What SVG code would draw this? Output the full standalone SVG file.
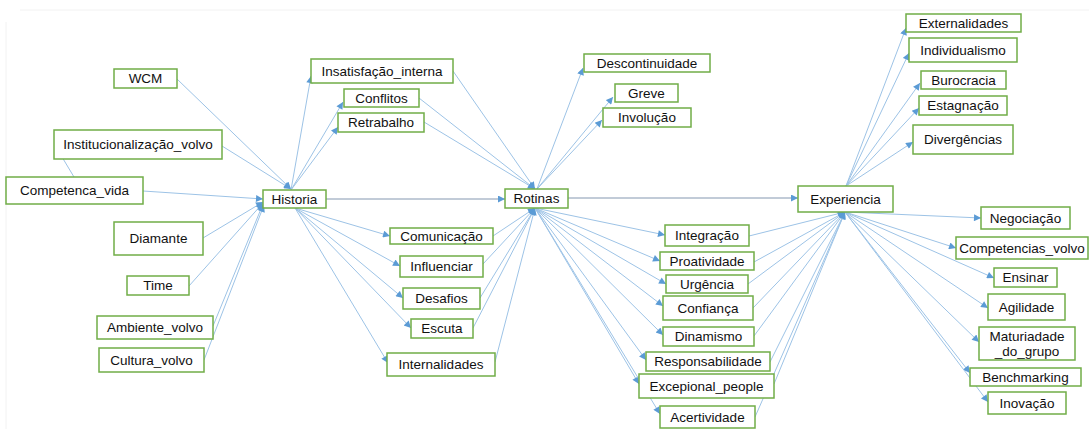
<svg xmlns="http://www.w3.org/2000/svg" width="1089" height="429" viewBox="0 0 1089 429">
<defs>
<marker id="a" viewBox="0 0 10 10" refX="10" refY="5" markerWidth="9" markerHeight="7" orient="auto" markerUnits="userSpaceOnUse"><path d="M0,0 L10,5 L0,10 z" fill="#5B9BD5"/></marker>
<style>
.n rect{fill:#fff;stroke:#70AD47;stroke-width:1.5}
.n text{font-family:"Liberation Sans",Arial,sans-serif;font-size:13.5px;fill:#111;text-anchor:middle}
#edges line{stroke:#9DC3E6;stroke-width:1;marker-end:url(#a)}
#edges line.m{stroke:#8497B0}
</style>
</defs>
<rect width="1089" height="429" fill="#fff"/>
<line x1="20" y1="10" x2="1089" y2="10" stroke="#f2f2f2"/>
<line x1="6" y1="22" x2="6" y2="429" stroke="#f2f2f2"/>
<g id="edges">
<line x1="177" y1="79" x2="291" y2="189"/>
<line x1="222" y1="146" x2="291" y2="189"/>
<line x1="143" y1="191" x2="263" y2="199"/>
<line x1="74" y1="177" x2="56" y2="147"/>
<line x1="203" y1="238" x2="263" y2="202"/>
<line x1="189" y1="286" x2="263" y2="203"/>
<line x1="213" y1="326" x2="263" y2="204"/>
<line x1="204" y1="360" x2="264" y2="205"/>
<line x1="291" y1="190" x2="311" y2="76"/>
<line x1="291" y1="190" x2="343" y2="102"/>
<line x1="291" y1="190" x2="338" y2="127"/>
<line class="m" x1="326" y1="199" x2="505" y2="199"/>
<line x1="295" y1="208" x2="390" y2="236"/>
<line x1="295" y1="208" x2="400" y2="266"/>
<line x1="295" y1="208" x2="403" y2="298"/>
<line x1="295" y1="208" x2="411" y2="328"/>
<line x1="295" y1="208" x2="388" y2="363"/>
<line x1="453" y1="71" x2="535" y2="189"/>
<line x1="419" y1="98" x2="535" y2="189"/>
<line x1="424" y1="122" x2="535" y2="189"/>
<line x1="493" y1="236" x2="535" y2="208"/>
<line x1="483" y1="264" x2="535" y2="208"/>
<line x1="480" y1="298" x2="535" y2="208"/>
<line x1="473" y1="328" x2="535" y2="208"/>
<line x1="495" y1="362" x2="535" y2="208"/>
<line x1="537" y1="189" x2="583" y2="68"/>
<line x1="537" y1="189" x2="613" y2="97"/>
<line x1="537" y1="189" x2="602" y2="120"/>
<line class="m" x1="568" y1="198" x2="798" y2="198"/>
<line x1="535" y1="208" x2="665" y2="235"/>
<line x1="535" y1="208" x2="660" y2="261"/>
<line x1="535" y1="208" x2="666" y2="284"/>
<line x1="535" y1="208" x2="663" y2="306"/>
<line x1="535" y1="208" x2="663" y2="335"/>
<line x1="535" y1="208" x2="646" y2="360"/>
<line x1="535" y1="208" x2="639" y2="384"/>
<line x1="535" y1="208" x2="660" y2="414"/>
<line x1="749" y1="236" x2="845" y2="212"/>
<line x1="754" y1="262" x2="845" y2="212"/>
<line x1="748" y1="284" x2="845" y2="212"/>
<line x1="753" y1="308" x2="845" y2="212"/>
<line x1="754" y1="336" x2="845" y2="212"/>
<line x1="770" y1="362" x2="845" y2="212"/>
<line x1="774" y1="384" x2="845" y2="212"/>
<line x1="755" y1="417" x2="845" y2="212"/>
<line x1="846" y1="186" x2="906" y2="28"/>
<line x1="846" y1="186" x2="909" y2="53"/>
<line x1="846" y1="186" x2="920" y2="83"/>
<line x1="846" y1="186" x2="919" y2="108"/>
<line x1="846" y1="186" x2="913" y2="142"/>
<line x1="845" y1="212" x2="981" y2="218"/>
<line x1="845" y1="212" x2="956" y2="248"/>
<line x1="845" y1="212" x2="994" y2="278"/>
<line x1="845" y1="212" x2="988" y2="308"/>
<line x1="845" y1="212" x2="979" y2="342"/>
<line x1="845" y1="212" x2="970" y2="373"/>
<line x1="845" y1="212" x2="988" y2="402"/>
</g>
<g id="n-wcm" class="n"><rect x="114" y="69" width="63" height="19"/><text x="145.5" y="83">WCM</text></g>
<g id="n-inst" class="n"><rect x="54" y="130" width="168" height="29"/><text x="138" y="149">Institucionalização_volvo</text></g>
<g id="n-comp" class="n"><rect x="6" y="177" width="137" height="27"/><text x="74.5" y="195">Competenca_vida</text></g>
<g id="n-historia" class="n"><rect x="263" y="190" width="63" height="18"/><text x="294.5" y="204">Historia</text></g>
<g id="n-diamante" class="n"><rect x="114" y="222" width="89" height="33"/><text x="158.5" y="243">Diamante</text></g>
<g id="n-time" class="n"><rect x="127" y="276" width="62" height="19"/><text x="158" y="290">Time</text></g>
<g id="n-ambiente" class="n"><rect x="97" y="316" width="116" height="23"/><text x="155" y="332">Ambiente_volvo</text></g>
<g id="n-cultura" class="n"><rect x="99" y="348" width="105" height="24"/><text x="151.5" y="365">Cultura_volvo</text></g>
<g id="n-insat" class="n"><rect x="311" y="59" width="142" height="24"/><text x="382" y="76">Insatisfação_interna</text></g>
<g id="n-conflitos" class="n"><rect x="344" y="89" width="75" height="18"/><text x="381.5" y="103">Conflitos</text></g>
<g id="n-retrabalho" class="n"><rect x="338" y="113" width="86" height="19"/><text x="381" y="127">Retrabalho</text></g>
<g id="n-rotinas" class="n"><rect x="505" y="189" width="63" height="19"/><text x="536.5" y="203">Rotinas</text></g>
<g id="n-comunicacao" class="n"><rect x="390" y="228" width="103" height="16"/><text x="441.5" y="241">Comunicação</text></g>
<g id="n-influenciar" class="n"><rect x="400" y="256" width="83" height="21"/><text x="441.5" y="271">Influenciar</text></g>
<g id="n-desafios" class="n"><rect x="403" y="288" width="77" height="21"/><text x="441.5" y="303">Desafios</text></g>
<g id="n-escuta" class="n"><rect x="411" y="319" width="62" height="19"/><text x="442" y="333">Escuta</text></g>
<g id="n-internalidades" class="n"><rect x="387" y="353" width="108" height="23"/><text x="441" y="369">Internalidades</text></g>
<g id="n-descontinuidade" class="n"><rect x="584" y="54" width="126" height="18"/><text x="647" y="68">Descontinuidade</text></g>
<g id="n-greve" class="n"><rect x="615" y="84" width="63" height="18"/><text x="646.5" y="98">Greve</text></g>
<g id="n-involucao" class="n"><rect x="603" y="108" width="88" height="19"/><text x="647" y="122">Involução</text></g>
<g id="n-integracao" class="n"><rect x="665" y="225" width="84" height="21"/><text x="707" y="240">Integração</text></g>
<g id="n-proatividade" class="n"><rect x="660" y="252" width="94" height="18"/><text x="707" y="266">Proatividade</text></g>
<g id="n-urgencia" class="n"><rect x="666" y="275" width="82" height="18"/><text x="707" y="289">Urgência</text></g>
<g id="n-confianca" class="n"><rect x="663" y="296" width="90" height="24"/><text x="708" y="313">Confiança</text></g>
<g id="n-dinamismo" class="n"><rect x="663" y="327" width="91" height="19"/><text x="708.5" y="341">Dinamismo</text></g>
<g id="n-responsabilidade" class="n"><rect x="646" y="352" width="124" height="19"/><text x="708" y="366">Responsabilidade</text></g>
<g id="n-excepional" class="n"><rect x="639" y="374" width="135" height="24"/><text x="706.5" y="391">Excepional_people</text></g>
<g id="n-acertividade" class="n"><rect x="660" y="406" width="95" height="22"/><text x="707.5" y="422">Acertividade</text></g>
<g id="n-experiencia" class="n"><rect x="798" y="186" width="95" height="26"/><text x="845.5" y="204">Experiencia</text></g>
<g id="n-externalidades" class="n"><rect x="906" y="14" width="115" height="18"/><text x="963.5" y="28">Externalidades</text></g>
<g id="n-individualismo" class="n"><rect x="909" y="38" width="108" height="24"/><text x="963" y="55">Individualismo</text></g>
<g id="n-burocracia" class="n"><rect x="921" y="71" width="85" height="18"/><text x="963.5" y="85">Burocracia</text></g>
<g id="n-estagnacao" class="n"><rect x="919" y="96" width="88" height="19"/><text x="963" y="110">Estagnação</text></g>
<g id="n-divergencias" class="n"><rect x="913" y="125" width="100" height="29"/><text x="963" y="144">Divergências</text></g>
<g id="n-negociacao" class="n"><rect x="981" y="207" width="89" height="22"/><text x="1025.5" y="223">Negociação</text></g>
<g id="n-competencias" class="n"><rect x="956" y="237" width="132" height="22"/><text x="1022" y="253">Competencias_volvo</text></g>
<g id="n-ensinar" class="n"><rect x="994" y="268" width="63" height="19"/><text x="1025.5" y="282">Ensinar</text></g>
<g id="n-agilidade" class="n"><rect x="988" y="294" width="77" height="26"/><text x="1026.5" y="312">Agilidade</text></g>
<g id="n-maturiadade" class="n"><rect x="979" y="327" width="96" height="33"/><text x="1027" y="341">Maturiadade</text><text x="1027" y="356">_do_grupo</text></g>
<g id="n-benchmarking" class="n"><rect x="970" y="368" width="111" height="18"/><text x="1025.5" y="382">Benchmarking</text></g>
<g id="n-inovacao" class="n"><rect x="988" y="392" width="78" height="22"/><text x="1027" y="408">Inovação</text></g>
</svg>
